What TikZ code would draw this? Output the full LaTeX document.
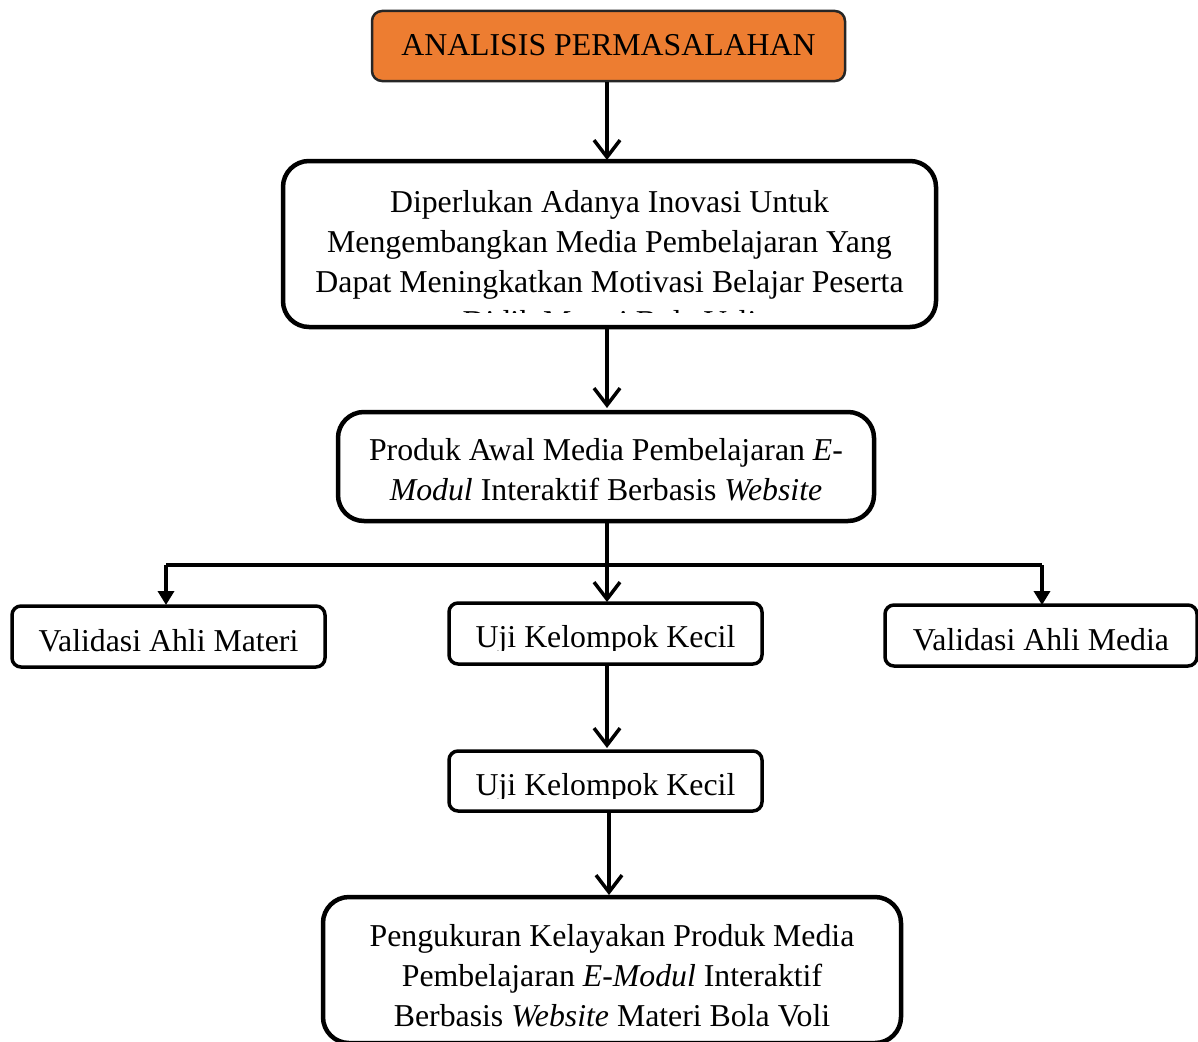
\documentclass[tikz,border=0pt]{standalone}
\usepackage{fontspec}
\setmainfont{Liberation Serif}
\usetikzlibrary{arrows.meta}
\definecolor{boxorange}{HTML}{ED7D31}
\newcommand\myfs{\fontsize{31.8}{40}\selectfont}
\tikzset{
  bigbox/.style={draw, line width=4.5pt, rounded corners=26pt, inner sep=0pt},
  smallbox/.style={draw, line width=3.5pt, rounded corners=9pt, inner sep=0pt},
  topbox/.style={draw=black!85, fill=boxorange, line width=2.5pt, rounded corners=10pt, inner sep=0pt},
  txt/.style={font=\myfs, align=center, inner sep=0pt, anchor=base},
  marr/.style={line width=3.5pt, -{Straight Barb[length=17pt,width=26pt,line width=3.5pt]}},
  farr/.style={line width=3.5pt, -{Triangle[length=14pt,width=16pt]}},
  plain/.style={line width=3.5pt}
}
\begin{document}
\begin{tikzpicture}[x=1pt,y=-1pt]
\useasboundingbox (0,0) rectangle (1198,1041);
% boxes
\node[topbox, minimum width=473pt, minimum height=70pt] (a) at (608.5,46) {};
\node[bigbox, minimum width=653pt, minimum height=166pt] (b) at (609.5,244) {};
\node[bigbox, minimum width=536pt, minimum height=109pt] (c) at (606,466.5) {};
\node[smallbox, minimum width=313pt, minimum height=61pt] (v1) at (168.5,636.5) {};
\node[smallbox, minimum width=313pt, minimum height=61pt] (u1) at (605.5,633.5) {};
\node[smallbox, minimum width=312pt, minimum height=61pt] (v3) at (1041,635.5) {};
\node[smallbox, minimum width=313pt, minimum height=60pt] (u2) at (605.5,781) {};
\node[bigbox, minimum width=578pt, minimum height=146pt] (d) at (612,970) {};
% texts
\node[txt] (ta) at (608.5,56) {ANALISIS PERMASALAHAN};
\begin{scope}
  \clip (283,161) rectangle (936,312);
  \node[txt] (tb) at (609.5,332) {Diperlukan Adanya Inovasi Untuk\\Mengembangkan Media Pembelajaran Yang\\Dapat Meningkatkan Motivasi Belajar Peserta\\Didik Materi Bola Voli};
\end{scope}
\node[txt] (tc) at (606,500) {Produk Awal Media Pembelajaran \textit{E}-\\\textit{Modul} Interaktif Berbasis \textit{Website}};
\node[txt] (tv1) at (168.5,651) {Validasi Ahli Materi};
\begin{scope}
  \clip (449,603) rectangle (762,650);
  \node[txt] (tu1) at (605.5,647) {Uji Kelompok Kecil};
\end{scope}
\node[txt] (tv3) at (1041,650) {Validasi Ahli Media};
\begin{scope}
  \clip (449,751) rectangle (762,798);
  \node[txt] (tu2) at (605.5,795) {Uji Kelompok Kecil};
\end{scope}
\node[txt] (td) at (612,1026) {Pengukuran Kelayakan Produk Media\\Pembelajaran \textit{E-Modul} Interaktif\\Berbasis \textit{Website} Materi Bola Voli};
% connectors
\coordinate (j) at (607,565);
\draw[marr] (a.south -| 607,0) -- (607,160);
\draw[marr] (b.south -| 607,0) -- (607,408);
\draw[marr] (c.south -| 607,0) -- (607,602);
\draw[plain] (j) -- (166,565);
\draw[farr] (166,565) -- (166,605);
\draw[plain] (j) -- (1042,565);
\draw[farr] (1042,565) -- (1042,605);
\draw[marr] (u1.south -| 607,0) -- (607,748);
\draw[marr] (u2.south -| 609,0) -- (609,895);
\end{tikzpicture}
\end{document}
